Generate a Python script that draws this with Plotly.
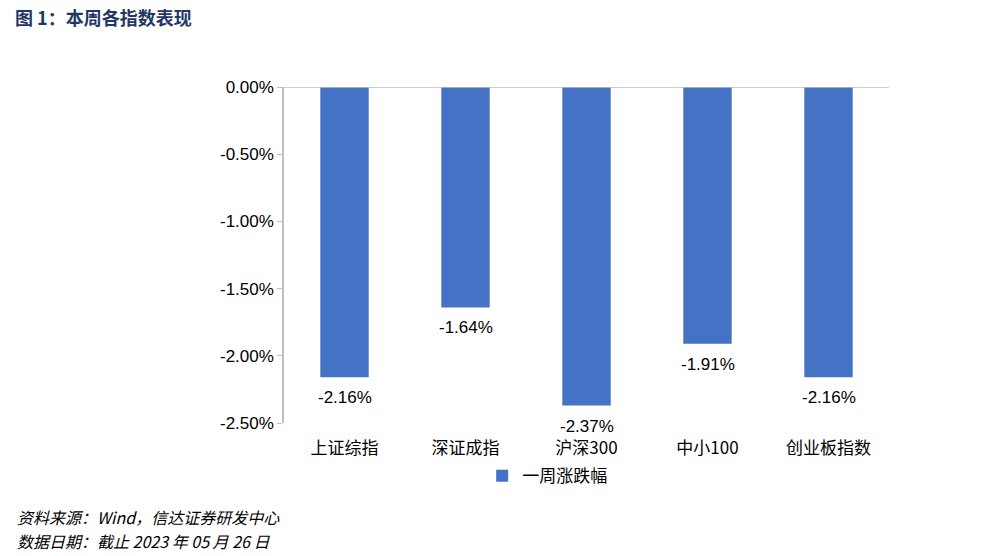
import plotly.graph_objects as go

categories = ["上证综指", "深证成指", "沪深300", "中小100", "创业板指数"]
values = [-2.16, -1.64, -2.37, -1.91, -2.16]
series_name = "一周涨跌幅"
tick_vals = [0, -0.5, -1.0, -1.5, -2.0, -2.5]
tick_text = ["0.00%", "-0.50%", "-1.00%", "-1.50%", "-2.00%", "-2.50%"]

FONT = "Liberation Sans, Arial, Noto Sans CJK SC, sans-serif"
W, H = 1004, 556
L, R, T, B = 284, 115, 87, 133
PW, PH = W - L - R, H - T - B

fig = go.Figure()
fig.add_trace(go.Bar(
    x=categories, y=values, name=series_name,
    marker=dict(color="#4472C4", line=dict(width=0)),
))

annos = []
for c, v in zip(categories, values):
    annos.append(dict(text=f"{v:.2f}%", x=c, y=v, xref="x", yref="y",
                      yanchor="top", xanchor="center", yshift=-9, showarrow=False,
                      font=dict(size=17, color="#000", family=FONT)))

annos += [
    dict(text="<b>图 1：本周各指数表现</b>", xref="paper", yref="paper",
         x=(13 - L) / PW, y=1 + (T - 17) / PH, xanchor="left", yanchor="middle",
         showarrow=False, font=dict(size=18, color="#1F3864", family="Noto Sans CJK SC")),
    dict(text="<i>资料来源：Wind，信达证券研发中心</i>", xref="paper", yref="paper",
         x=(15 - L) / PW, y=-(517 - (H - B)) / PH, xanchor="left", yanchor="middle",
         showarrow=False, font=dict(size=16, color="#000", family="Noto Sans CJK SC, Liberation Sans")),
    dict(text="<i>数据日期：截止 2023 年 05 月 26 日</i>", xref="paper", yref="paper",
         x=(15 - L) / PW, y=-(541 - (H - B)) / PH, xanchor="left", yanchor="middle",
         showarrow=False, font=dict(size=16, color="#000", family="Noto Sans CJK SC, Liberation Sans")),
]

fig.update_layout(
    width=W, height=H,
    margin=dict(l=L, r=R, t=T, b=B, autoexpand=False),
    paper_bgcolor="white", plot_bgcolor="white",
    bargap=0.6,
    showlegend=True,
    legend=dict(orientation="h", x=0.435, xanchor="center", y=-0.158, yanchor="middle",
                font=dict(size=17, family="Noto Sans CJK SC", color="#000"),
                itemwidth=30, traceorder="normal"),
    font=dict(family=FONT, color="#000"),
    xaxis=dict(showline=False, ticks="outside", ticklen=10, tickcolor="rgba(0,0,0,0)",
               tickfont=dict(size=17, family="Noto Sans CJK SC, Liberation Sans", color="#000"),
               showgrid=False, zeroline=False),
    yaxis=dict(range=[-2.5, 0], tickvals=tick_vals, ticktext=tick_text,
               showline=True, linecolor="#BFBFBF", linewidth=1.5,
               ticks="outside", ticklen=5, tickcolor="#BFBFBF",
               tickfont=dict(size=17, family=FONT, color="#000"),
               showgrid=False, zeroline=False),
    shapes=[dict(type="line", xref="paper", yref="y", x0=0, x1=1, y0=0, y1=0,
                 line=dict(color="#BFBFBF", width=1.5))],
    annotations=annos,
)

fig.write_html("out.html")
